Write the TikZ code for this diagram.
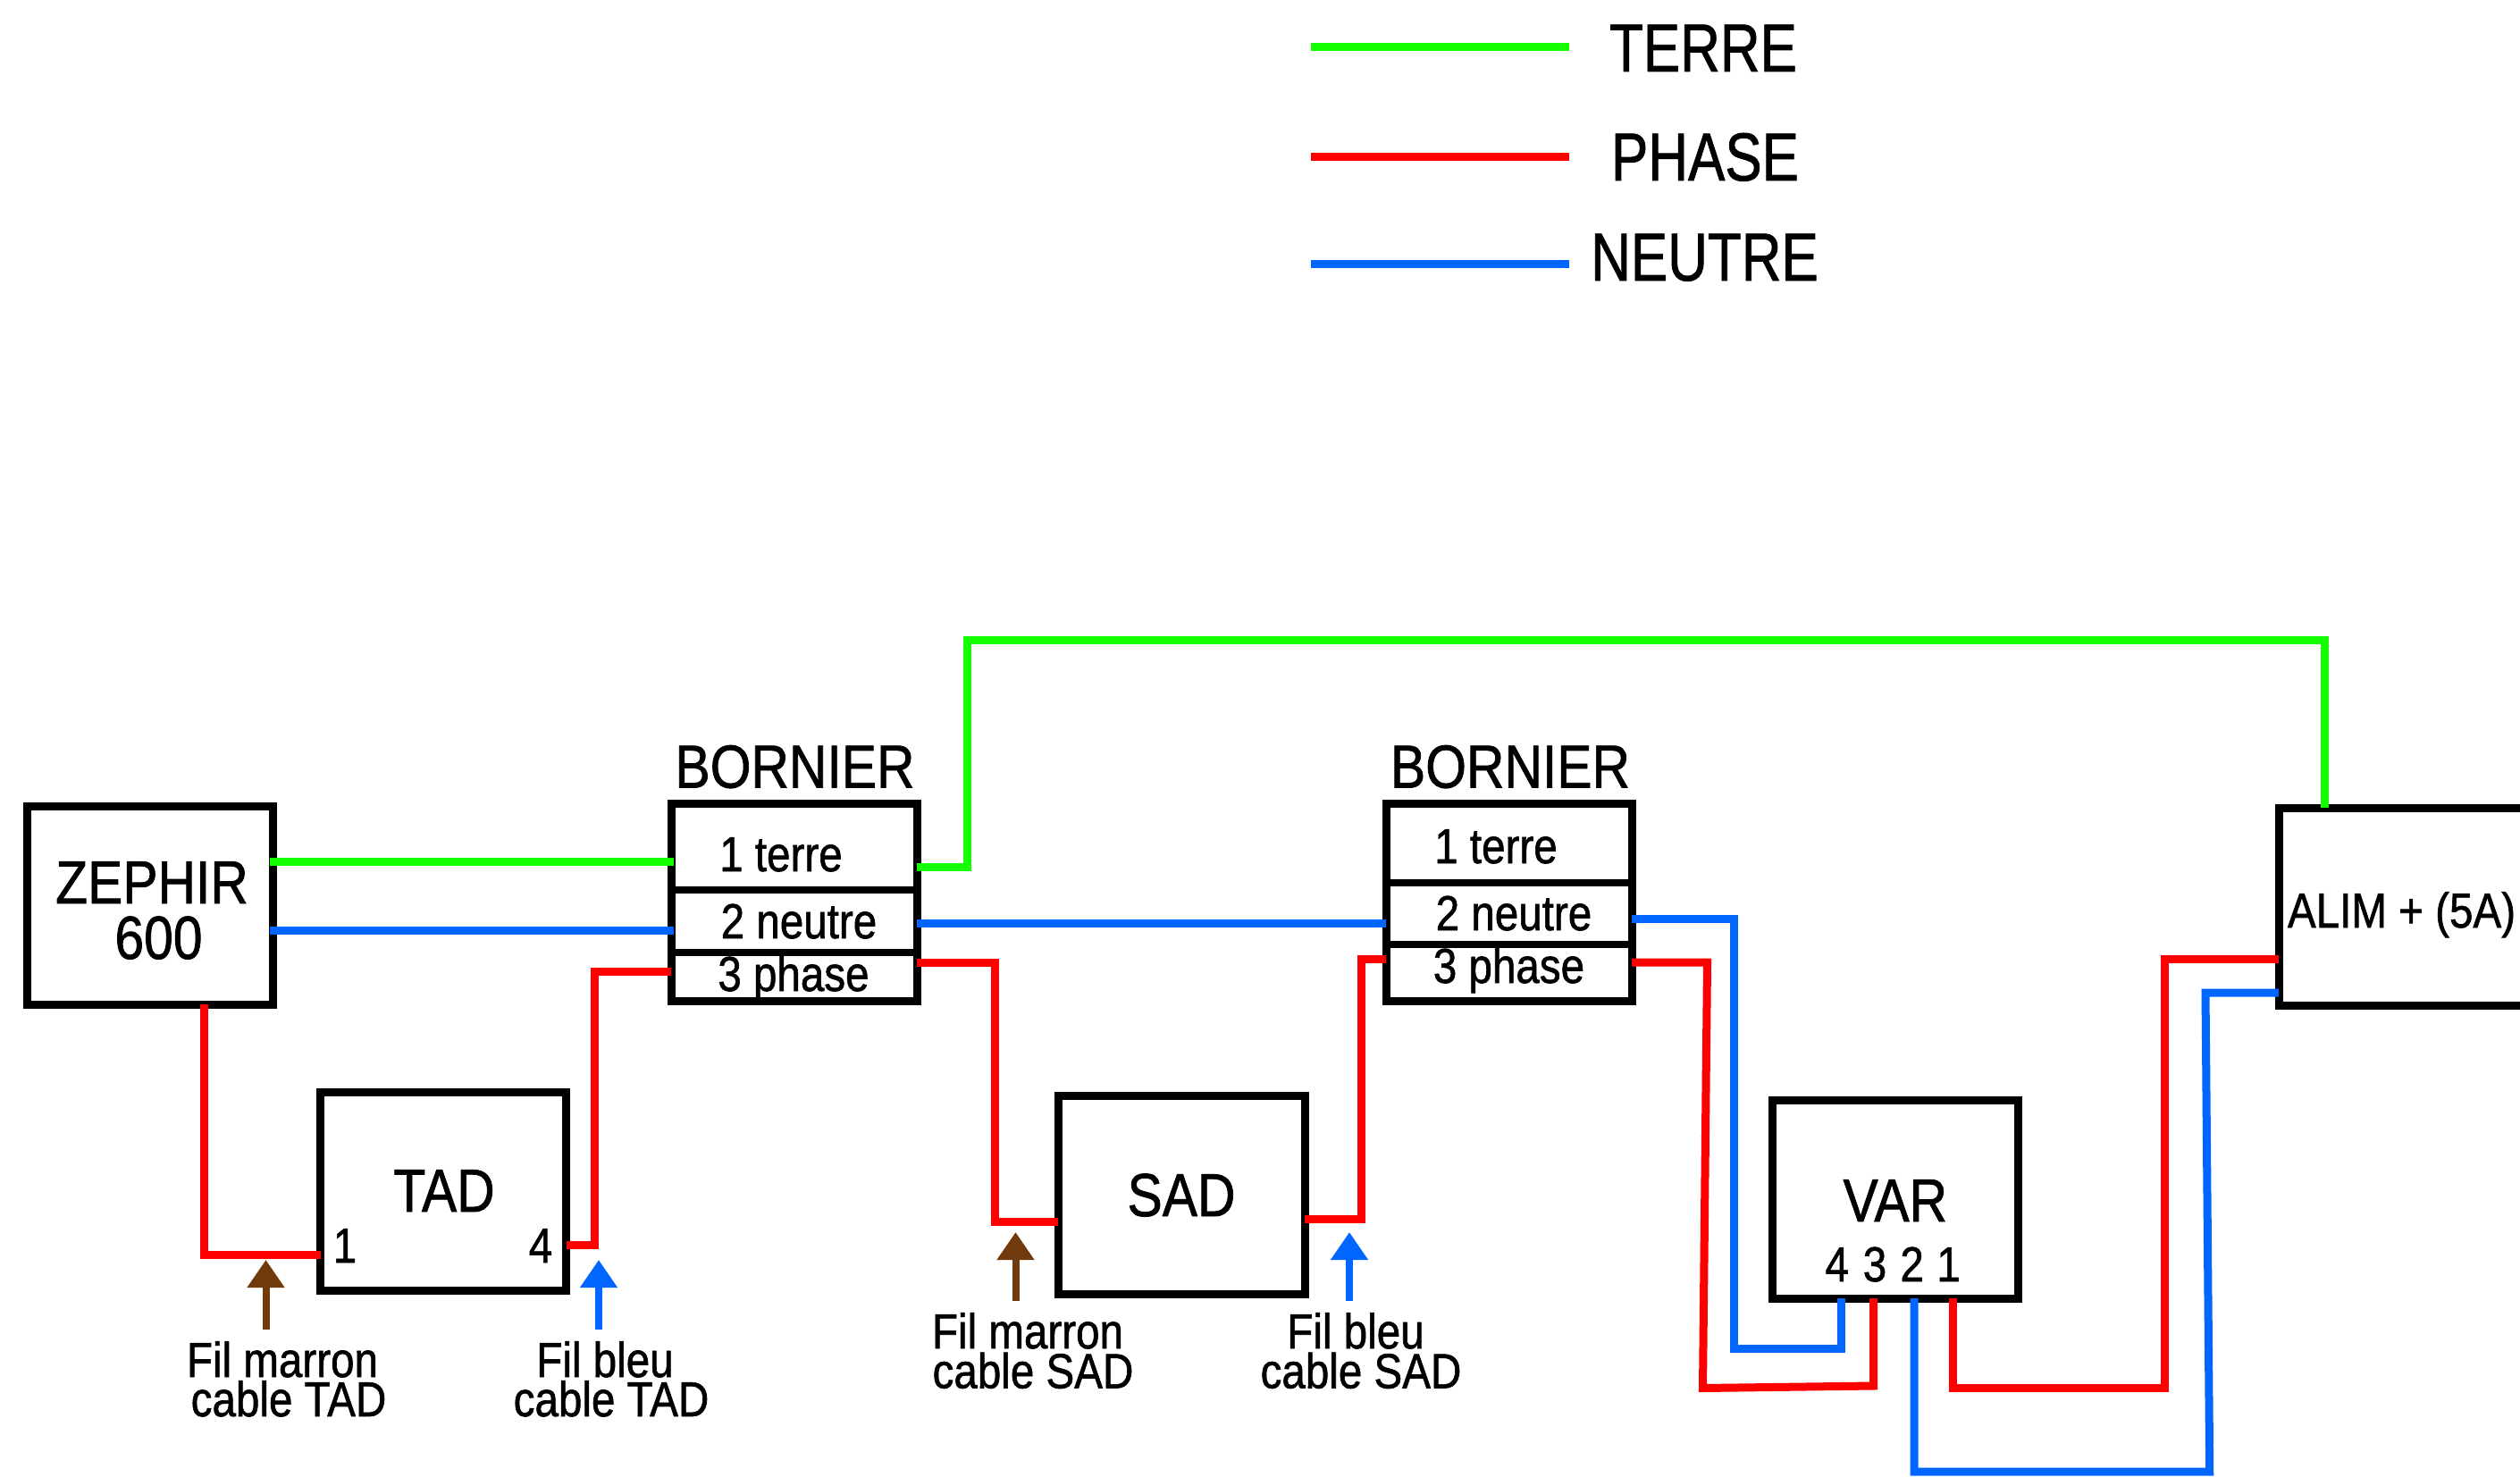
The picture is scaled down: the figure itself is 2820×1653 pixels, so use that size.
\documentclass[tikz,border=0pt]{standalone}
\usepackage{graphicx}
\usepackage{fontspec}
\setmainfont{Liberation Sans}
\newfontfamily\heavy{Liberation Sans}[FakeBold=1.2]
\usetikzlibrary{arrows.meta}
\definecolor{wgreen}{HTML}{16FF00}
\definecolor{wred}{HTML}{FF0000}
\definecolor{wblue}{HTML}{0066FF}
\definecolor{wbrown}{HTML}{703A0C}
\newcommand{\nw}[1]{\scalebox{.865}[1]{#1}}
\newcommand{\nl}[1]{\scalebox{.815}[1]{#1}}
\tikzset{
  box/.style={draw=black,line width=9pt,fill=white,inner sep=0pt,outer sep=0pt,rectangle},
  big/.style={inner sep=0pt,outer sep=0pt,anchor=base,font=\heavy\fontsize{68}{68}\selectfont},
  small/.style={inner sep=0pt,outer sep=0pt,anchor=base,font=\heavy\fontsize{55}{55}\selectfont},
  leg/.style={inner sep=0pt,outer sep=0pt,anchor=base,font=\heavy\fontsize{76}{76}\selectfont},
  terre/.style={draw=wgreen,line width=9pt,line join=miter},
  phase/.style={draw=wred,line width=9pt,line join=miter},
  neutre/.style={draw=wblue,line width=9pt,line join=miter},
  over/.style={shorten >=-3pt,shorten <=-3pt},
  marker/.style={line width=8pt,-{Triangle[length=31pt,width=40pt]}},
  legline/.style={line width=9pt}
}
\begin{document}
\begin{tikzpicture}[x=1pt,y=-1pt]
\useasboundingbox (0,0) rectangle (2820,1653);
\clip (0,0) rectangle (2820,1653);
\fill[white] (0,0) rectangle (2820,1653);

% legend
\coordinate (lga) at (1467,52.5);
\coordinate (lgb) at (1756,52.5);
\coordinate (lpa) at (1467,175.5);
\coordinate (lpb) at (1756,175.5);
\coordinate (lna) at (1467,295);
\coordinate (lnb) at (1756,295);
\draw[legline,draw=wgreen] (lga) -- (lgb);
\draw[legline,draw=wred] (lpa) -- (lpb);
\draw[legline,draw=wblue] (lna) -- (lnb);
\node[leg] (tterre) at (1906,80) {\nl{TERRE}};
\node[leg] (tphase) at (1908,202) {\nl{PHASE}};
\node[leg] (tneutre) at (1907.5,314) {\nl{NEUTRE}};

% boxes
\node[box,minimum width=275pt,minimum height=222pt] (zephir) at (167.5,1013) {};
\node[box,minimum width=275pt,minimum height=222pt] (tad) at (496,1333) {};
\node[box,minimum width=275pt,minimum height=221pt] (bor1) at (888.5,1009.5) {};
\node[box,minimum width=276pt,minimum height=222pt] (sad) at (1322,1337) {};
\node[box,minimum width=275pt,minimum height=221pt] (bor2) at (1688.5,1009.5) {};
\node[box,minimum width=275pt,minimum height=222pt] (var) at (2120.5,1342) {};
\node[box,minimum width=300pt,minimum height=221pt] (alim) at (2700,1014.5) {};

\draw[line width=8pt] (bor1.west |- 0,996) -- (bor1.east |- 0,996);
\draw[line width=8pt] (bor1.west |- 0,1065.5) -- (bor1.east |- 0,1065.5);
\draw[line width=8pt] (bor2.west |- 0,988) -- (bor2.east |- 0,988);
\draw[line width=8pt] (bor2.west |- 0,1057) -- (bor2.east |- 0,1057);

% box labels
\node[big] (l1) at (170,1011) {\nw{ZEPHIR}};
\node[big] (l2) at (177.5,1073) {\nw{600}};
\node[big] (l3) at (497,1356) {\nw{TAD}};
\node[small] (l4) at (386,1413) {\nw{1}};
\node[small] (l5) at (605,1413) {\nw{4}};
\node[big] (l6) at (889.5,881.5) {\nw{BORNIER}};
\node[small] (l7) at (874,975) {\nw{1 terre}};
\node[small] (l8) at (894,1050) {\nw{2 neutre}};
\node[small] (l9) at (888,1109) {\nw{3 phase}};
\node[big] (l10) at (1322,1361) {\nw{SAD}};
\node[big] (l11) at (1690,881.5) {\nw{BORNIER}};
\node[small] (l12) at (1674,966) {\nw{1 terre}};
\node[small] (l13) at (1694,1041) {\nw{2 neutre}};
\node[small] (l14) at (1688.5,1100) {\nw{3 phase}};
\node[big] (l15) at (2120.8,1367) {\nw{VAR}};
\node[small] (l16) at (2055.7,1434) {\nw{4}};
\node[small] (l17) at (2098,1434) {\nw{3}};
\node[small] (l18) at (2139.6,1434) {\nw{2}};
\node[small] (l19) at (2180.6,1434) {\nw{1}};
\node[small] (l20) at (2687.5,1038) {\nw{ALIM + (5A)}};

% wires: terre
\draw[terre,over] (zephir.east |- 0,964) -- (bor1.west |- 0,964);
\draw[terre] (bor1.east |- 0,970) -- (1082,970) -- (1082,716) -- (2601,716) -- (alim.north -| 2601,0);
% wires: neutre
\draw[neutre,over] (zephir.east |- 0,1041.5) -- (bor1.west |- 0,1041.5);
\draw[neutre] (bor1.east |- 0,1033) -- (bor2.west |- 0,1033);
\draw[neutre] (bor2.east |- 0,1028.5) -- (1940,1028.5) -- (1940,1509) -- (2060,1509) -- (var.south -| 2060,0);
\draw[neutre] (var.south -| 2142,0) -- (2142,1647) -- (2472.7,1647) -- (2468,1111) -- (alim.west |- 0,1111);
% wires: phase
\draw[phase] (zephir.south -| 228,0) -- (228,1404.5) -- (tad.west |- 0,1404.5);
\draw[phase] (tad.east |- 0,1393.5) -- (665,1393.5) -- (665,1087) -- (bor1.west |- 0,1087);
\draw[phase] (bor1.east |- 0,1077) -- (1113,1077) -- (1113,1367) -- (sad.west |- 0,1367);
\draw[phase] (sad.east |- 0,1364) -- (1523.5,1364) -- (1523.5,1073) -- (bor2.west |- 0,1073);
\draw[phase] (bor2.east |- 0,1077) -- (1910.5,1077) -- (1905.5,1553.5) -- (2096.7,1551) -- (var.south -| 2096.7,0);
\draw[phase] (var.south -| 2185,0) -- (2185,1553.5) -- (2422.6,1553.5) -- (2422.6,1073.7) -- (alim.west |- 0,1073.7);

% markers
\coordinate (m1a) at (297.5,1488);
\coordinate (m1b) at (297.5,1410);
\coordinate (m2a) at (670,1488);
\coordinate (m2b) at (670,1410);
\coordinate (m3a) at (1136.5,1456);
\coordinate (m3b) at (1136.5,1379);
\coordinate (m4a) at (1510,1456);
\coordinate (m4b) at (1510,1379);
\draw[marker,draw=wbrown,fill=wbrown] (m1a) -- (m1b);
\draw[marker,draw=wblue,fill=wblue] (m2a) -- (m2b);
\draw[marker,draw=wbrown,fill=wbrown] (m3a) -- (m3b);
\draw[marker,draw=wblue,fill=wblue] (m4a) -- (m4b);

% marker labels
\node[small] (f1) at (316,1541) {\nw{Fil marron}};
\node[small] (f2) at (323,1585) {\nw{cable TAD}};
\node[small] (f3) at (677,1541) {\nw{Fil bleu}};
\node[small] (f4) at (684,1585) {\nw{cable TAD}};
\node[small] (f5) at (1150,1509) {\nw{Fil marron}};
\node[small] (f6) at (1156,1553.5) {\nw{cable SAD}};
\node[small] (f7) at (1517,1509) {\nw{Fil bleu}};
\node[small] (f8) at (1523,1553.5) {\nw{cable SAD}};
\end{tikzpicture}
\end{document}
